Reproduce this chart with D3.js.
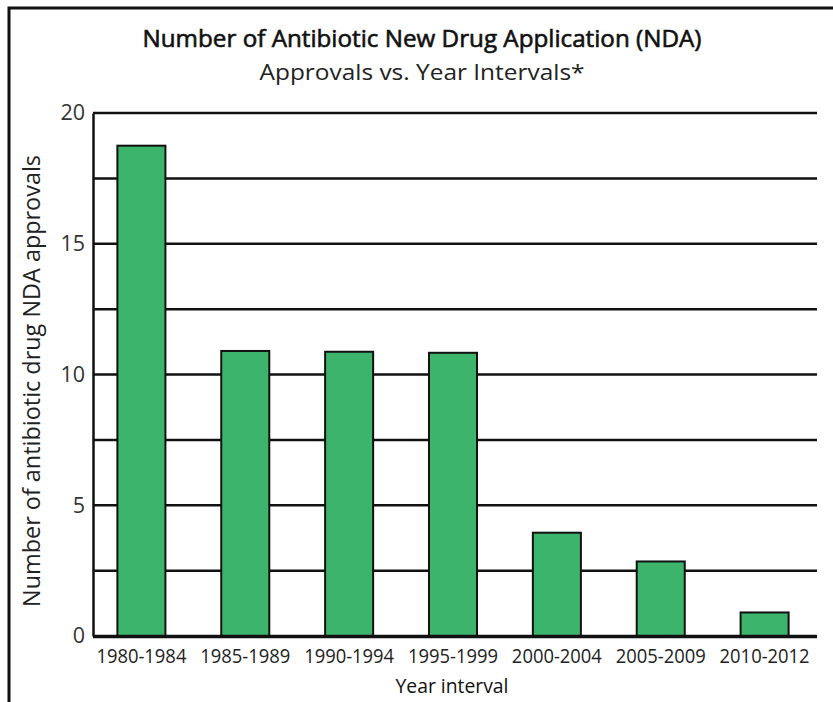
<!DOCTYPE html>
<html><head><meta charset="utf-8">
<script src="https://cdn.jsdelivr.net/npm/d3@7"></script>
<style>body{margin:0;background:#fff}svg{display:block;font-family:"Open Sans",sans-serif}</style>
</head><body><svg id="c" width="833" height="702"></svg>
<script>
const categories = ["1980-1984","1985-1989","1990-1994","1995-1999","2000-2004","2005-2009","2010-2012"];
const approvals = [18.75, 10.9, 10.87, 10.83, 3.95, 2.85, 0.9];
const yTicks = [0, 5, 10, 15, 20];
const gridValues = [2.5, 5, 7.5, 10, 12.5, 15, 17.5, 20];

const svg = d3.select("#c");
const L = 93, R = 817, T = 113, B = 636;
const x = d3.scaleBand().domain(categories).range([L - 2, R - 2]).paddingInner(0.5376).paddingOuter(0.254);
const y = d3.scaleLinear().domain([0, 20]).range([B, T]);

// frame
svg.append("path").attr("d", `M9,702 V8 H833`).attr("fill","none").attr("stroke","#111").attr("stroke-width",3);

// title
svg.append("text").attr("x",422).attr("y",47).attr("text-anchor","middle")
  .attr("font-size",23).attr("font-weight",400).attr("fill","#111")
  .attr("stroke","#111").attr("stroke-width",0.6)
  .attr("textLength",559).attr("lengthAdjust","spacingAndGlyphs")
  .text("Number of Antibiotic New Drug Application (NDA)");
svg.append("text").attr("x",422).attr("y",80).attr("text-anchor","middle")
  .attr("font-size",22.5).attr("fill","#222")
  .attr("textLength",325).attr("lengthAdjust","spacingAndGlyphs")
  .text("Approvals vs. Year Intervals*");

// grid
svg.append("g").selectAll("line").data(gridValues).join("line")
  .attr("x1",L).attr("x2",R).attr("y1",d=>y(d)).attr("y2",d=>y(d))
  .attr("stroke","#111").attr("stroke-width",2.5);

// bars
svg.append("g").selectAll("rect").data(approvals).join("rect")
  .attr("x",(d,i)=>x(categories[i])).attr("width",x.bandwidth())
  .attr("y",d=>y(d)).attr("height",d=>B-y(d))
  .attr("fill","#3cb46b").attr("stroke","#111").attr("stroke-width",2);

// y axis
const ya = d3.axisLeft(y).tickValues(yTicks).tickSize(0).tickPadding(8);
const gy = svg.append("g").attr("transform",`translate(${L},0)`).call(ya);
gy.select(".domain").attr("stroke","#111").attr("stroke-width",2.5);
gy.selectAll("text").attr("font-size",21.5).attr("fill","#333").attr("font-family","Open Sans");

// x axis
const xa = d3.axisBottom(x).tickSize(0).tickPadding(12);
const gx = svg.append("g").attr("transform",`translate(0,${B})`).call(xa);
gx.select(".domain").attr("stroke","#111").attr("stroke-width",3.5).attr("d",`M${L},0.5H${R}`);
gx.selectAll("text").attr("font-size",20.5).attr("fill","#222").attr("font-family","Open Sans")
  .attr("textLength",90).attr("lengthAdjust","spacingAndGlyphs");

// axis titles
svg.append("text").attr("transform","translate(40,381) rotate(-90)").attr("text-anchor","middle")
  .attr("font-size",23).attr("fill","#222")
  .attr("textLength",452).attr("lengthAdjust","spacingAndGlyphs")
  .text("Number of antibiotic drug NDA approvals");
svg.append("text").attr("x",452).attr("y",693).attr("text-anchor","middle")
  .attr("font-size",20.5).attr("fill","#111")
  .attr("textLength",113).attr("lengthAdjust","spacingAndGlyphs")
  .text("Year interval");
</script></body></html>
